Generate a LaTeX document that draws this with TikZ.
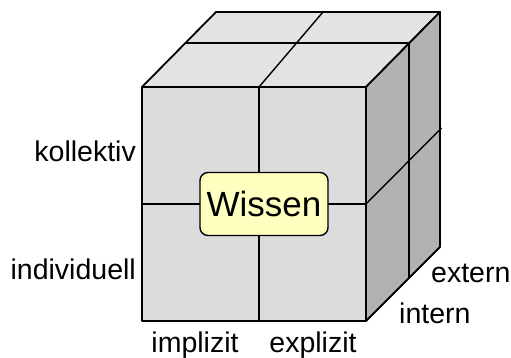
\documentclass[tikz,border=0pt]{standalone}
\usepackage{fontspec}
\setmainfont{Liberation Sans}
\begin{document}
\begin{tikzpicture}[x=1pt,y=-1pt,
  edge/.style={line width=1.8pt, line join=round},
  divider/.style={line width=1.4pt},
  lbl/.style={inner sep=0pt, font=\fontsize{28.5}{30}\selectfont},
  wissenbox/.style={draw, line width=1.4pt, rounded corners=8pt, fill=boxyellow,
    minimum width=128pt, minimum height=63pt, inner sep=0pt,
    font=\fontsize{35}{38}\selectfont}]
\definecolor{frontgray}{HTML}{DCDCDC}
\definecolor{topgray}{HTML}{E3E3E3}
\definecolor{sidegray}{HTML}{B2B2B2}
\definecolor{boxyellow}{HTML}{FFFFC0}
\useasboundingbox (0,0) rectangle (511,358);
% corners
\coordinate (FTL) at (142,87);
\coordinate (FTR) at (366,87);
\coordinate (FBL) at (142,321);
\coordinate (FBR) at (366,321);
\coordinate (BTL) at (216,12);
\coordinate (BTR) at (440,12);
\coordinate (BBR) at (440,247);
% faces
\draw[edge, fill=topgray] (FTL) -- (BTL) -- (BTR) -- (FTR) -- cycle;
\draw[edge, fill=sidegray] (FTR) -- (BTR) -- (BBR) -- (FBR) -- cycle;
\draw[edge, fill=frontgray] (FTL) rectangle (FBR);
% dividers on front face
\coordinate (FMT) at (259,87);
\coordinate (FMB) at (259,322);
\coordinate (FML) at (142,204);
\coordinate (FMR) at (366,204);
\draw[divider] (FMT) -- (FMB);
\draw[divider] (FML) -- (FMR);
% dividers on top face
\coordinate (TML) at (185,43);
\coordinate (TMR) at (409,43);
\coordinate (TBM) at (323,12);
\draw[divider] (TML) -- (TMR);
\draw[divider] (FMT) -- (TBM);
% dividers on right face
\coordinate (RMB) at (409,278);
\coordinate (RBM) at (441.5,128);
\draw[divider] (TMR) -- (RMB);
\draw[divider] (FMR) -- (RBM);
% centre box
\node[wissenbox] (wissen) at (264,204) {Wissen};
% labels
\node[lbl, anchor=base east] (kollektiv) at (136,162) {kollektiv};
\node[lbl, anchor=base east] (individuell) at (136,279) {individuell};
\node[lbl, anchor=base] (implizit) at (195,352) {implizit};
\node[lbl, anchor=base] (explizit) at (313,352) {explizit};
\node[lbl, anchor=base west] (extern) at (431,282) {extern};
\node[lbl, anchor=base west] (intern) at (399,323) {intern};
\node[lbl, anchor=base] (topcut) at (322,-6.5) {g};
\end{tikzpicture}
\end{document}
